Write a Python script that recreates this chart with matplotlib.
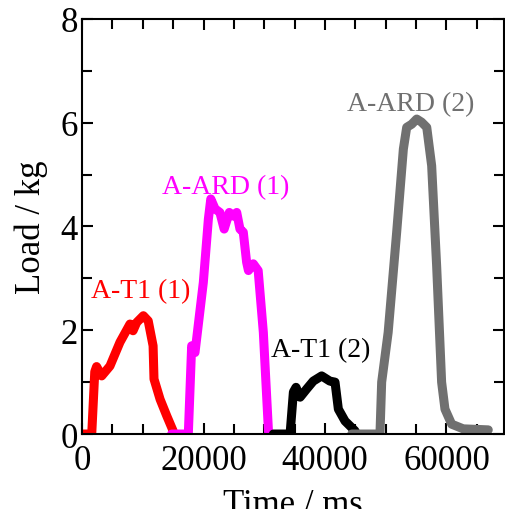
import matplotlib
matplotlib.use('Agg')
import matplotlib.pyplot as plt
from matplotlib.ticker import MultipleLocator

plt.rcParams['font.family'] = ['Liberation Serif', 'DejaVu Serif']

# load traces (time in ms, load in kg)
t_at1_1 = [200, 1600, 2100, 2400, 3240, 4600, 6250, 7900, 8400, 9000, 10100,
           10900, 11700, 11850, 12850, 13950, 15000]
w_at1_1 = [0, 0, 1.2, 1.3, 1.12, 1.31, 1.77, 2.12, 1.99, 2.15, 2.28,
           2.18, 1.70, 1.06, 0.67, 0.35, 0.06]

t_aard_1 = [14750, 17500, 18050, 18600, 19970, 20800, 21200, 21900, 22700, 23400,
            24250, 24900, 25470, 26000, 26550, 27100, 27400, 28200, 29000, 29850, 30700]
w_aard_1 = [0, 0, 1.70, 1.57, 2.92, 4.14, 4.53, 4.34, 4.27, 3.95,
            4.27, 4.20, 4.27, 3.95, 3.89, 3.31, 3.15, 3.28, 3.15, 1.96, 0.04]

t_at1_2 = [31500, 34250, 34800, 35230, 35900, 37000, 38070, 39450, 40800, 41650,
           42200, 43300, 44950]
w_at1_2 = [0, 0, 0.81, 0.90, 0.71, 0.87, 1.02, 1.12, 1.02, 1.00,
           0.48, 0.25, 0.06]

t_aard_2 = [44400, 49050, 49330, 50400, 51800, 52900, 53450, 54270, 55100, 55900,
            56750, 57560, 58380, 59200, 59750, 60850, 62760, 66880]
w_aard_2 = [0, 0, 1.0, 1.96, 3.89, 5.49, 5.91, 5.97, 6.07, 6.01,
            5.91, 5.17, 3.24, 1.0, 0.48, 0.19, 0.10, 0.08]

series = [
    (t_at1_1, w_at1_1, '#ff0000', 'A-T1 (1)', 1430, 2.76),
    (t_aard_1, w_aard_1, '#ff00ff', 'A-ARD (1)', 13170, 4.77),
    (t_at1_2, w_at1_2, '#000000', 'A-T1 (2)', 31100, 1.63),
    (t_aard_2, w_aard_2, '#707070', 'A-ARD (2)', 43570, 6.36),
]

fig = plt.figure(figsize=(5.05, 5.10), dpi=100)
ax = fig.add_axes([0.1624, 0.147, 0.836, 0.814])

for t, w, c, name, tx, ty in series:
    ax.plot(t, w, color=c, lw=6.5, solid_capstyle='round', solid_joinstyle='round')
    ax.text(tx, ty, name, color=c, fontsize=20, ha='left', va='center')

ax.set_xlim(0, 69500)
ax.set_ylim(0, 8)
ax.xaxis.set_major_locator(MultipleLocator(20000))
ax.xaxis.set_minor_locator(MultipleLocator(5000))
ax.yaxis.set_major_locator(MultipleLocator(2))
ax.yaxis.set_minor_locator(MultipleLocator(1))
ax.tick_params(which='both', direction='in', top=True, right=True, width=1.5)
ax.tick_params(which='major', length=8, labelsize=25)
ax.tick_params(which='minor', length=7)
ax.tick_params(axis='x', pad=7)
ax.tick_params(axis='y', pad=3)
for s in ax.spines.values():
    s.set_linewidth(1.5)

ax.set_xlabel('Time / ms', fontsize=25, labelpad=8)
ax.set_ylabel('Load / kg', fontsize=25, labelpad=9)

fig.savefig('out.png', dpi=100)
